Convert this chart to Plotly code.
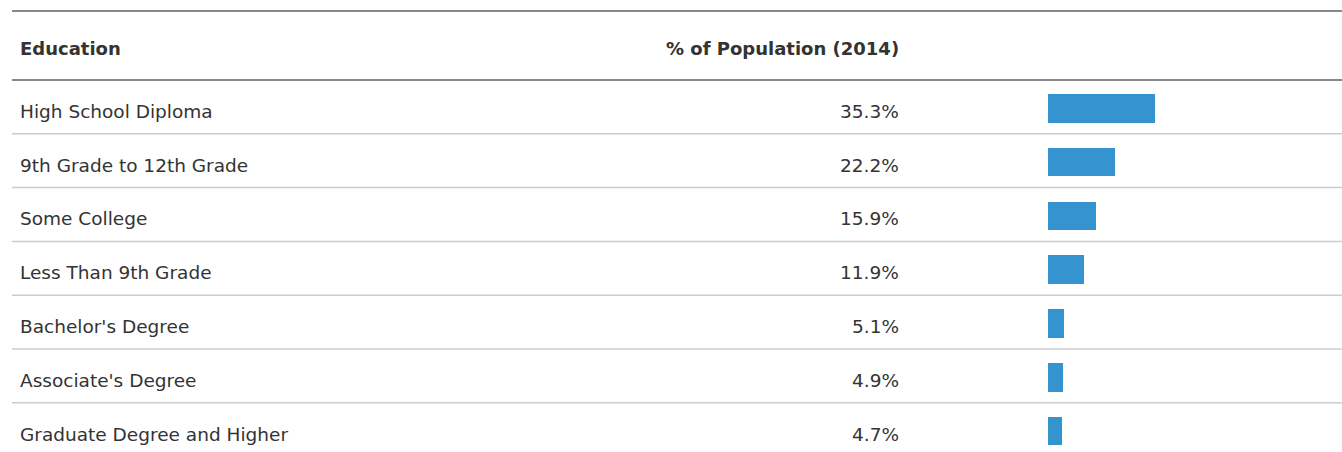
import plotly.graph_objects as go

# ---- data ----
categories = [
    "High School Diploma",
    "9th Grade to 12th Grade",
    "Some College",
    "Less Than 9th Grade",
    "Bachelor's Degree",
    "Associate's Degree",
    "Graduate Degree and Higher",
]
values = [35.3, 22.2, 15.9, 11.9, 5.1, 4.9, 4.7]
value_labels = ["35.3%", "22.2%", "15.9%", "11.9%", "5.1%", "4.9%", "4.7%"]
header_labels = ["Education", "% of Population (2014)"]

# ---- layout geometry ----
W, H = 1342, 452
ROW_PX = 53.8          # row height in px
ROW0_PX = 106.9        # centre of first row in px
PX_PER_UNIT = 3.04     # bar px per percent
BAR_X0_PX = 1048       # where bars start

def ypx(p):
    return (p - ROW0_PX) / ROW_PX

def xpx(p):
    return (p - BAR_X0_PX) / PX_PER_UNIT

rows = list(range(len(categories)))
TEXT_COLOR = "#333333"
FONT = "DejaVu Sans"
LEFT_PX, RIGHT_PX = 18, 901

fig = go.Figure()
fig.add_trace(go.Bar(
    y=rows, x=values, orientation="h",
    width=28.7 / ROW_PX, offset=-(28.7 / 2 - 1.4) / ROW_PX,
    marker=dict(color="#3594d0", line=dict(width=0)),
    hoverinfo="skip", showlegend=False,
))

annotations = []
text_dy = 0.082
for i, (c, v) in enumerate(zip(categories, value_labels)):
    annotations.append(dict(x=xpx(LEFT_PX), y=i + text_dy, xref="x", yref="y", text=c,
                            showarrow=False, xanchor="left", yanchor="middle",
                            font=dict(family=FONT, size=18.5, color=TEXT_COLOR)))
    annotations.append(dict(x=xpx(RIGHT_PX), y=i + text_dy, xref="x", yref="y", text=v,
                            showarrow=False, xanchor="right", yanchor="middle",
                            font=dict(family=FONT, size=18.5, color=TEXT_COLOR)))
hy = ypx(48.8)
annotations.append(dict(x=xpx(LEFT_PX), y=hy, xref="x", yref="y", text="<b>%s</b>" % header_labels[0],
                        showarrow=False, xanchor="left", yanchor="middle",
                        font=dict(family=FONT, size=18, color=TEXT_COLOR)))
annotations.append(dict(x=xpx(RIGHT_PX), y=hy, xref="x", yref="y", text="<b>%s</b>" % header_labels[1],
                        showarrow=False, xanchor="right", yanchor="middle",
                        font=dict(family=FONT, size=18, color=TEXT_COLOR)))

shapes = []
for yy in [ypx(11), -0.5]:
    shapes.append(dict(type="line", xref="paper", yref="y", x0=12 / W, x1=1, y0=yy, y1=yy,
                       line=dict(color="#888888", width=2)))
for i in rows[:-1]:
    shapes.append(dict(type="line", xref="paper", yref="y", x0=12 / W, x1=1, y0=i + 0.5, y1=i + 0.5,
                       line=dict(color="#cccccc", width=1.5)))

fig.update_layout(
    width=W, height=H,
    margin=dict(l=0, r=0, t=0, b=0),
    paper_bgcolor="white", plot_bgcolor="white",
    xaxis=dict(range=[xpx(0), xpx(W)], visible=False, fixedrange=True),
    yaxis=dict(range=[ypx(H), ypx(0)], visible=False, fixedrange=True),
    annotations=annotations, shapes=shapes,
    bargap=0,
)
fig.write_html("out.html", config={"displayModeBar": False},
               post_script="document.body.style.margin='0px';document.body.style.overflow='hidden';")
